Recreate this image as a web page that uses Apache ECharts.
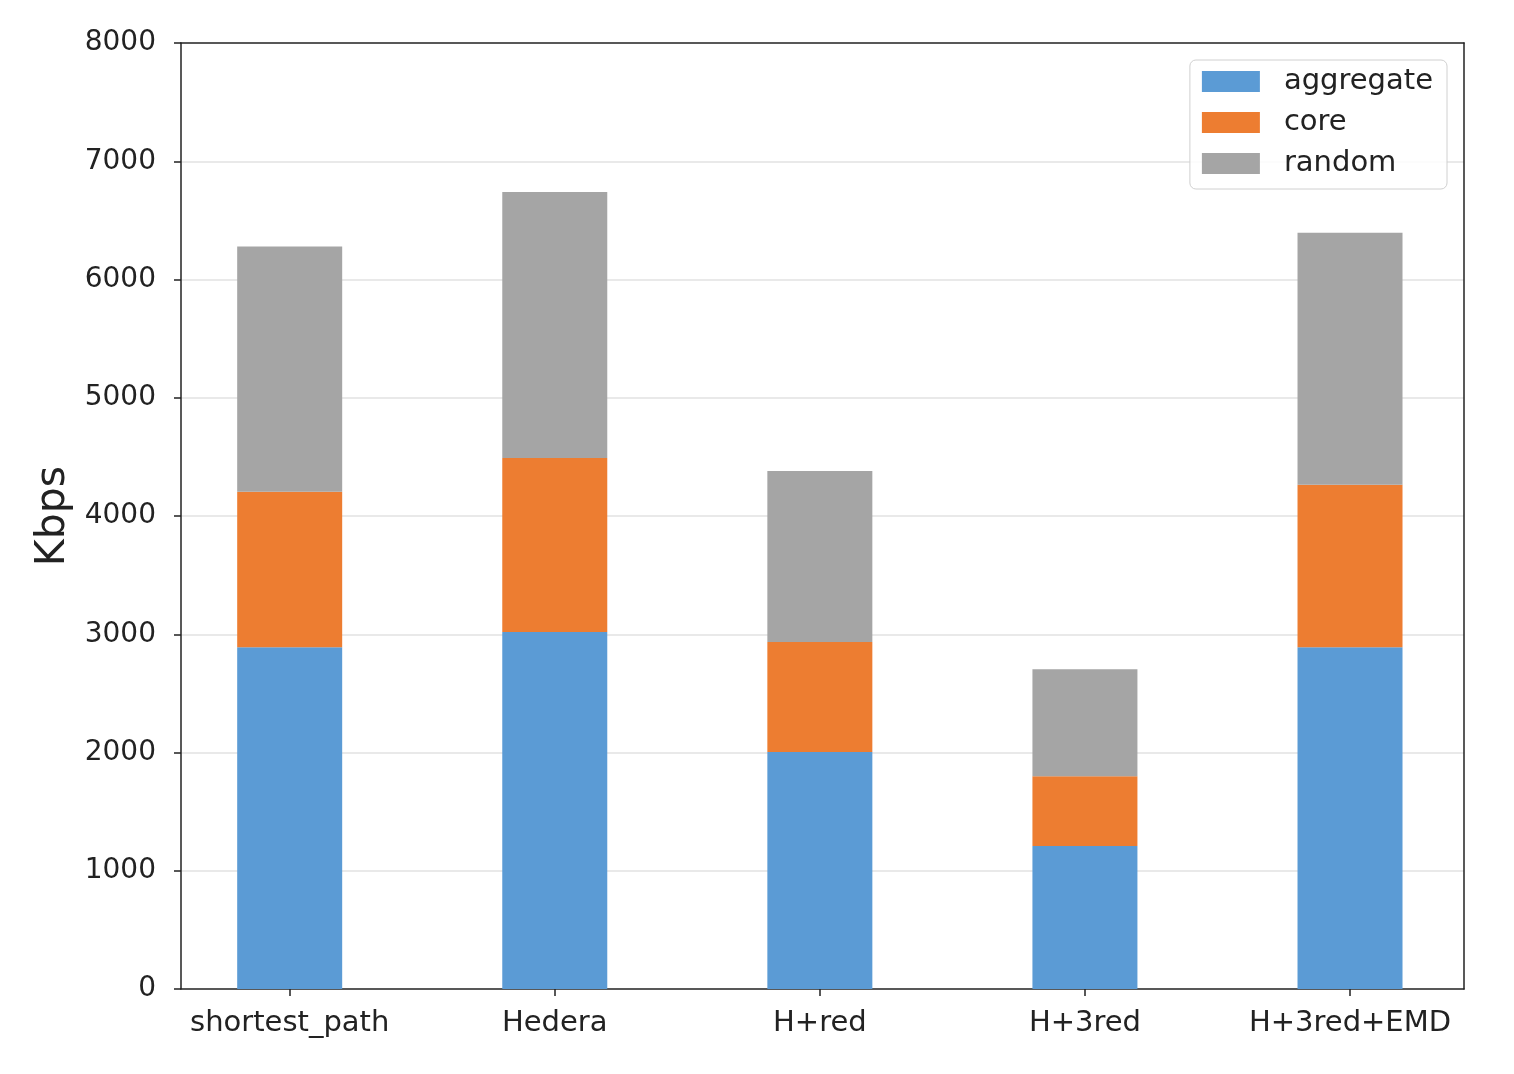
<!DOCTYPE html>
<html>
<head>
<meta charset="utf-8">
<script src="https://cdn.jsdelivr.net/npm/echarts@6/dist/echarts.min.js"></script>
<style>
html,body{margin:0;padding:0;background:#fff;}
#chart{width:1514px;height:1074px;}
</style>
</head>
<body>
<div id="chart"></div>
<script>
const categories = ['shortest_path', 'Hedera', 'H+red', 'H+3red', 'H+3red+EMD'];
const aggregate = [2890, 3020, 2005, 1210, 2890];
const core = [1315, 1470, 930, 590, 1375];
const random = [2075, 2250, 1445, 905, 2130];
const yTicks = [0, 1000, 2000, 3000, 4000, 5000, 6000, 7000, 8000];

const FONT = 'DejaVu Sans';
const idx = categories.map((c, i) => i);
// value first, category index second -> stacking happens on the value (y) dimension
function toPoints(arr) { return arr.map((v, i) => [v, i]); }

const lineStyle = {color: '#222', width: 1.5};
const chart = echarts.init(document.getElementById('chart'), null, {renderer: 'canvas'});
chart.setOption({
  animation: false,
  backgroundColor: '#fff',
  grid: {left: 181, right: 50, top: 43, bottom: 85, show: false},
  legend: {
    orient: 'vertical',
    right: 67, top: 60,
    padding: [7, 14, 11, 12],
    itemWidth: 58, itemHeight: 21, itemGap: 12,
    backgroundColor: 'rgba(255,255,255,0.85)',
    borderColor: '#d0d0d0', borderWidth: 1, borderRadius: 6,
    icon: 'rect',
    textStyle: {fontFamily: FONT, fontSize: 29, color: '#222', padding: [0, 0, 0, 19]},
    data: ['aggregate', 'core', 'random']
  },
  xAxis: [{
    type: 'value',
    min: -0.41, max: 4.43,
    splitLine: {show: false},
    axisLine: {show: true, onZero: false, lineStyle: lineStyle},
    axisTick: {show: true, customValues: idx, length: 7, lineStyle: lineStyle},
    axisLabel: {
      customValues: idx,
      formatter: v => categories[Math.round(v)] || '',
      fontFamily: FONT, fontSize: 29, color: '#222', margin: 20
    }
  }, {
    type: 'value', position: 'top',
    min: -0.41, max: 4.43,
    splitLine: {show: false},
    axisLine: {show: true, onZero: false, lineStyle: lineStyle},
    axisTick: {show: false}, axisLabel: {show: false}
  }],
  yAxis: [{
    type: 'value',
    min: 0, max: 8000, interval: 1000,
    name: 'Kbps', nameLocation: 'middle', nameGap: 107,
    nameTextStyle: {fontFamily: FONT, fontSize: 41, color: '#222'},
    axisLine: {show: true, onZero: false, lineStyle: lineStyle},
    axisTick: {show: true, length: 7, lineStyle: lineStyle},
    axisLabel: {fontFamily: FONT, fontSize: 28, color: '#222', margin: 25,
      customValues: yTicks, formatter: v => String(v)},
    splitLine: {show: true, showMinLine: false, showMaxLine: false,
      lineStyle: {color: '#e2e2e2', width: 1.5}}
  }, {
    type: 'value', position: 'right',
    min: 0, max: 8000, interval: 1000,
    axisLine: {show: true, onZero: false, lineStyle: lineStyle},
    axisTick: {show: false}, axisLabel: {show: false}, splitLine: {show: false}
  }],
  series: [
    {name: 'aggregate', type: 'bar', stack: 'total', barWidth: 105,
     encode: {x: 1, y: 0}, itemStyle: {color: '#5B9BD5'}, data: toPoints(aggregate)},
    {name: 'core', type: 'bar', stack: 'total', barWidth: 105,
     encode: {x: 1, y: 0}, itemStyle: {color: '#ED7D31'}, data: toPoints(core)},
    {name: 'random', type: 'bar', stack: 'total', barWidth: 105,
     encode: {x: 1, y: 0}, itemStyle: {color: '#A5A5A5'}, data: toPoints(random)}
  ]
});
</script>
</body>
</html>
